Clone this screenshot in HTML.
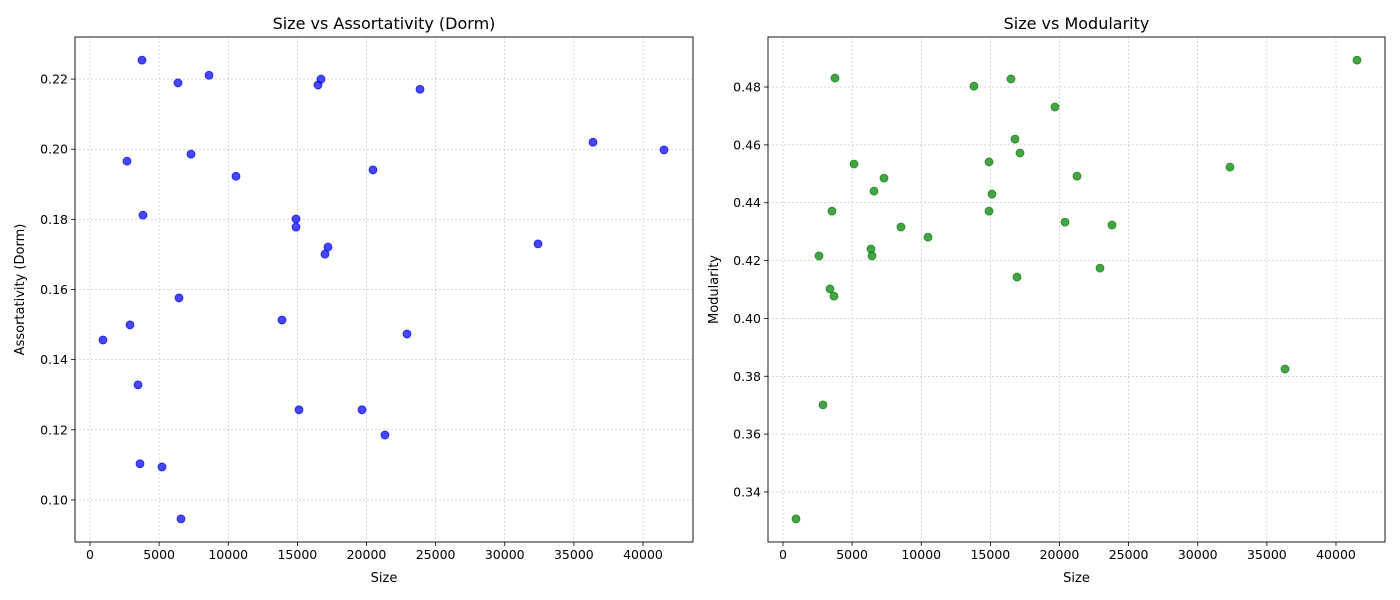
<!DOCTYPE html>
<html><head><meta charset="utf-8"><style>
body{margin:0;background:#fff;}
svg{display:block;font-family:"DejaVu Sans","Liberation Sans",sans-serif;}
</style></head><body>
<svg id="chart" width="1400" height="600"></svg>
<script>
const sizesL=[3761,6365,8608,16709,16492,23870,36384,41519,2676,7306,10561,20470,3834,14901,14901,17215,16998,32405,6438,13888,2893,940,22929,3472,15118,19675,21338,3617,5208,6582];
const assort=[0.2254,0.2189,0.2211,0.2200,0.2183,0.2171,0.2020,0.1998,0.1966,0.1986,0.1923,0.1941,0.1812,0.1801,0.1778,0.1721,0.1701,0.1730,0.1576,0.1513,0.1499,0.1456,0.1473,0.1328,0.1257,0.1257,0.1185,0.1103,0.1094,0.0946];
const sizesR=[3761,16492,13815,41519,19675,16781,17143,5136,14901,32333,7306,21266,6582,15118,3544,14901,8535,20398,23798,10488,6365,2604,6438,22929,16926,3400,3689,36311,2893,940];
const modul=[0.4831,0.4828,0.4803,0.4893,0.4731,0.4620,0.4572,0.4534,0.4541,0.4523,0.4485,0.4492,0.4440,0.4430,0.4371,0.4371,0.4316,0.4333,0.4323,0.4281,0.4240,0.4216,0.4216,0.4174,0.4143,0.4102,0.4077,0.3825,0.3701,0.3307];
const xTicks=[0,5000,10000,15000,20000,25000,30000,35000,40000];
const yTicksL=[0.10,0.12,0.14,0.16,0.18,0.20,0.22];
const yTicksR=[0.34,0.36,0.38,0.40,0.42,0.44,0.46,0.48];
const NS="http://www.w3.org/2000/svg";
const svg=document.getElementById('chart');
function mk(t,a,p){const e=document.createElementNS(NS,t);for(const k in a)e.setAttribute(k,a[k]);(p||svg).appendChild(e);return e;}
function panel(o){
  const g=mk('g',{});
  
  
  const sx=v=>o.x0+(v-o.xd[0])/(o.xd[1]-o.xd[0])*(o.x1-o.x0);
  const sy=v=>o.y1-(v-o.yd[0])/(o.yd[1]-o.yd[0])*(o.y1-o.y0);
  xTicks.forEach(t=>{const x=sx(t);
    mk('line',{x1:x,x2:x,y1:o.y0,y2:o.y1,stroke:'#b0b0b0','stroke-width':0.5,'stroke-dasharray':'2,2'},g);
    mk('line',{x1:x,x2:x,y1:o.y1,y2:o.y1+4,stroke:'#000','stroke-width':0.8},g);
    const tx=mk('text',{x:x,y:o.y1+17,'text-anchor':'middle','font-size':12.5},g);tx.textContent=t;
    
    });
  o.yt.forEach(t=>{const y=sy(t);
    mk('line',{x1:o.x0,x2:o.x1,y1:y,y2:y,stroke:'#b0b0b0','stroke-width':0.5,'stroke-dasharray':'2,2'},g);
    mk('line',{x1:o.x0-4,x2:o.x0,y1:y,y2:y,stroke:'#000','stroke-width':0.8},g);
    const tx=mk('text',{x:o.x0-7,y:y+4.5,'text-anchor':'end','font-size':12.5},g);tx.textContent=t.toFixed(2);
    
    });
  o.xs.forEach((v,i)=>{const c=mk('circle',{cx:sx(v),cy:sy(o.ys[i]),r:4,fill:o.col,'fill-opacity':0.72,stroke:o.col,'stroke-opacity':0.8,'stroke-width':0.8},g);
    
    });
  mk('rect',{x:o.x0,y:o.y0,width:o.x1-o.x0,height:o.y1-o.y0,fill:'none',stroke:'#000','stroke-width':0.9},g);
  const ti=mk('text',{x:(o.x0+o.x1)/2,y:o.y0-8,'text-anchor':'middle','font-size':16},g);ti.textContent=o.title;
  
  
  const xl=mk('text',{x:(o.x0+o.x1)/2,y:582,'text-anchor':'middle','font-size':13},g);xl.textContent='Size';
  
  
  const yx=o.x0-o.yoff, yy=(o.y0+o.y1)/2;
  const yl=mk('text',{x:yx,y:yy,'text-anchor':'middle','font-size':13,transform:`rotate(-90 ${yx} ${yy})`},g);yl.textContent=o.ylab;
  
  
}
panel({name:'assortativity-panel',x0:75,x1:693,y0:37,y1:542,xd:[-1085,43617],yd:[0.0880,0.2320],yt:yTicksL,xs:sizesL,ys:assort,col:'#0000ff',title:'Size vs Assortativity (Dorm)',ylab:'Assortativity (Dorm)',yoff:51});
panel({name:'modularity-panel',x0:768,x1:1385,y0:37,y1:542,xd:[-1085,43545],yd:[0.3227,0.4973],yt:yTicksR,xs:sizesR,ys:modul,col:'#008000',title:'Size vs Modularity',ylab:'Modularity',yoff:50});
</script>
</body></html>
